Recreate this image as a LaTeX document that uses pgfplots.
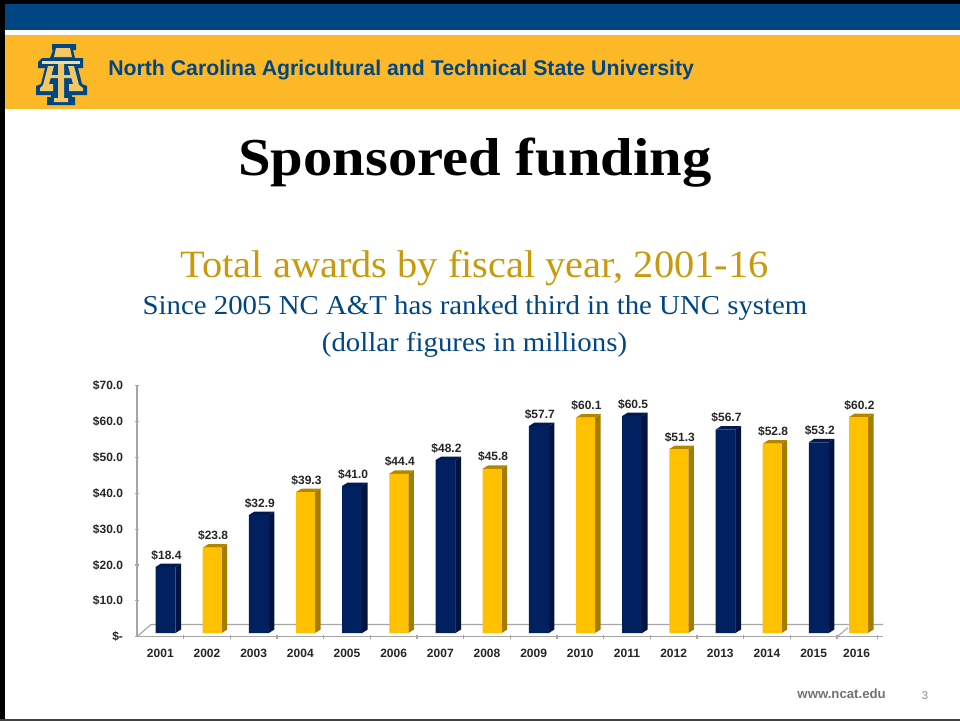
\documentclass[border=0pt]{standalone}
\usepackage{fontspec}
\usepackage{pgfplots}
\pgfplotsset{compat=1.18}
\setmainfont{Liberation Sans}
\newfontfamily\titlefont[FakeStretch=1.10]{Liberation Serif}
\newfontfamily\subfont[FakeStretch=1.045]{Liberation Serif}
\newfontfamily\bluefont[FakeStretch=1.055]{Liberation Serif}
\definecolor{ncblue}{HTML}{004684}
\definecolor{ncgold}{HTML}{FDB827}
\definecolor{logogold}{HTML}{F3C766}
\definecolor{barnavy}{HTML}{012060}
\definecolor{navyside}{HTML}{001440}
\definecolor{navytop}{HTML}{011A50}
\definecolor{bargold}{HTML}{FFC000}
\definecolor{goldside}{HTML}{A67C00}
\definecolor{goldtop}{HTML}{B38600}
\definecolor{axisgray}{HTML}{A6A6A6}
\definecolor{subgold}{HTML}{C99A0C}

% side and top face of one bar: centre x, value, half width, side colour, top colour
\newcommand{\barfaces}[5]{%
  \pgfmathsetmacro{\xr}{#1+0.111+#3}%
  \pgfmathsetmacro{\xl}{#1+0.111-#3}%
  \pgfmathsetmacro{\xrb}{\xr+0.118}%
  \pgfmathsetmacro{\xlb}{\xl+0.118}%
  \pgfmathsetmacro{\yt}{#2+1.03}%
  \pgfmathsetmacro{\ytb}{#2+1.03+0.976}%
  \edef\temp{\noexpand\addplot[fill=#4,draw=none] coordinates {(\xr,1.03) (\xrb,2.0) (\xrb,\ytb) (\xr,\yt)} --cycle;
    \noexpand\addplot[fill=#5,draw=none] coordinates {(\xl,\yt) (\xr,\yt) (\xrb,\ytb) (\xlb,\ytb)} --cycle;}%
  \temp
}
\newcommand{\navyfaces}[2]{\barfaces{#1}{#2}{0.214}{navyside}{navytop}}
\newcommand{\goldfaces}[2]{\barfaces{#1}{#2}{0.204}{goldside}{goldtop}}

\begin{document}
\begin{tikzpicture}
  \path[use as bounding box] (0,0) rectangle (720pt,-540.75pt);
  % slide furniture, in reference pixels
  \begin{scope}[x=0.75pt,y=-0.75pt]
  \fill[white] (0,0) rectangle (960,721);
  \fill[ncblue] (0,0) rectangle (960,30);
  \fill[ncgold] (0,35) rectangle (960,109);
  \fill[black] (0,0) rectangle (960,4);
  \fill[black] (0,0) rectangle (5,721);
  \fill[black!75] (0,719) rectangle (960,721);
  % logo
  \fill[ncblue] (52,44) -- (76,44) -- (76,50) -- (73,50) -- (75,58) -- (83,58) -- (83,68) -- (78,68) -- (82,84) -- (87,86) -- (87,95) -- (72,95) -- (72,97) -- (75,97) -- (75,105) -- (47,105) -- (47,97) -- (51,97) -- (51,95) -- (36,95) -- (36,86) -- (41,84) -- (45,68) -- (38,68) -- (38,62) -- (42,58) -- (50,58) -- (53,50) -- (52,50) -- cycle;
  \fill[logogold] (56,48) -- (70,48) -- (72,57) -- (54,57) -- cycle;
  \fill[white!30!logogold] (42,61) rectangle (80,64);
  \fill[logogold] (58,64) -- (64,64) -- (64,98) -- (68,98) -- (68,102) -- (54,102) -- (54,98) -- (58,98) -- cycle;
  \fill[logogold] (48,66) -- (54,66) -- (49,84) -- (53,84) -- (53,91) -- (40,91) -- (40,88) -- (43,85) -- cycle;
  \fill[logogold] (68,66) -- (74,66) -- (79,85) -- (83,88) -- (83,91) -- (69,91) -- (69,84) -- (73,84) -- cycle;
  \fill[logogold] (50,75) -- (72,75) -- (73,78) -- (49,78) -- cycle;
  % texts
  \node[anchor=base west,inner sep=0,text=ncblue,font=\fontsize{15.95}{18}\selectfont\bfseries] at (108,75) {North Carolina Agricultural and Technical State University};
  \node[anchor=base,inner sep=0,font=\titlefont\fontsize{40}{44}\selectfont\bfseries] at (475,175) {Sponsored funding};
  \node[anchor=base,inner sep=0,text=subgold,font=\subfont\fontsize{29}{32}\selectfont] at (474.5,277) {Total awards by fiscal year, 2001-16};
  \node[anchor=base,inner sep=0,text=ncblue,font=\bluefont\fontsize{20.5}{24}\selectfont] at (475,314) {Since 2005 NC A\&T has ranked third in the UNC system};
  \node[anchor=base,inner sep=0,text=ncblue,font=\bluefont\fontsize{20.5}{24}\selectfont] at (474.5,351) {(dollar figures in millions)};
  \node[anchor=base east,inner sep=0,text=black!55,font=\fontsize{9.9}{11}\selectfont\bfseries] at (886,698) {www.ncat.edu};
  \node[anchor=base,inner sep=0,text=black!45,font=\fontsize{8.5}{10}\selectfont] at (925,699) {3};
  \end{scope}
  % chart, axis box from px (137,385.7) to (883,636.7)
  \begin{axis}[
    at={(102.75pt,-477.525pt)},
    anchor=south west,
    scale only axis,
    width=559.5pt,
    height=188.25pt,
    xmin=-0.5, xmax=15.486,
    ymin=0, ymax=70,
    clip=false,
    axis x line=bottom,
    axis y line=left,
    axis line style={-,draw=axisgray,line width=0.9pt},
    tick style={draw=axisgray,line width=0.8pt},
    major tick length=3pt,
    xtick={0,1,2,3,4,5,6,7,8,9,10,11,12,13,14,14.92},
    xticklabels={2001,2002,2003,2004,2005,2006,2007,2008,2009,2010,2011,2012,2013,2014,2015,2016},
    x tick style={draw=none},
    minor xtick={0.5,1.5,2.5,3.5,4.5,5.5,6.5,7.5,8.5,9.5,10.5,11.5,12.5,13.5,14.5,15.36},
    minor tick length=3pt,
    minor x tick style={draw=axisgray,line width=0.8pt},
    ytick={0,10,20,30,40,50,60,70},
    yticklabels={\$-,\$10.0,\$20.0,\$30.0,\$40.0,\$50.0,\$60.0,\$70.0},
    tick label style={font=\fontsize{9}{10}\selectfont\bfseries,text=black!85},
    xticklabel style={yshift=-4pt},
    yticklabel style={xshift=-5.5pt},
    /pgf/number format/assume math mode=true,
    every node near coord/.append style={font=\fontsize{9}{10}\selectfont\bfseries,text=black!85,inner sep=0pt,xshift=4.6pt,yshift=5pt},
  ]
    % floor lines
    \addplot[axisgray,line width=0.9pt] coordinates {(-0.5,0) (-0.2,3.4) (15.486,3.4)};
    \addplot[axisgray,line width=0.8pt] coordinates {(14.5,0) (14.735,2.5)};
    % side and top faces
    \navyfaces{0}{18.4}\goldfaces{1}{23.8}\navyfaces{2}{32.9}\goldfaces{3}{39.3}
    \navyfaces{4}{41.0}\goldfaces{5}{44.4}\navyfaces{6}{48.2}\goldfaces{7}{45.8}
    \navyfaces{8}{57.7}\goldfaces{9}{60.1}\navyfaces{10}{60.5}\goldfaces{11}{51.3}
    \navyfaces{12}{56.7}\goldfaces{13}{52.8}\navyfaces{14}{53.2}\goldfaces{14.85}{60.2}
    % front faces
    \addplot[ybar,bar width=15pt,bar shift=3.9pt,yshift=2.775pt,fill=barnavy,draw=none,
      nodes near coords={\$\pgfmathprintnumber[fixed,fixed zerofill,precision=1,assume math mode=true]{\pgfplotspointmeta}}]
      table[x=x,y=v] {
      x v
      0 18.4
      2 32.9
      4 41.0
      6 48.2
      8 57.7
      10 60.5
      12 56.7
      14 53.2
    };
    \addplot[ybar,bar width=14.25pt,bar shift=3.9pt,yshift=2.775pt,fill=bargold,draw=none,
      nodes near coords={\$\pgfmathprintnumber[fixed,fixed zerofill,precision=1,assume math mode=true]{\pgfplotspointmeta}}]
      table[x=x,y=v] {
      x v
      1 23.8
      3 39.3
      5 44.4
      7 45.8
      9 60.1
      11 51.3
      13 52.8
      14.85 60.2
    };
  \end{axis}
\end{tikzpicture}
\end{document}
